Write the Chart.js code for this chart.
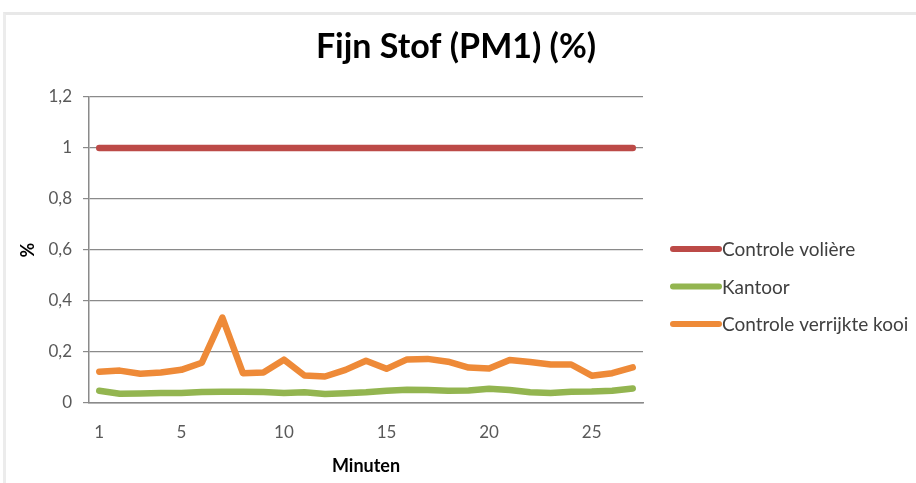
<!DOCTYPE html>
<html>
<head>
<meta charset="utf-8">
<script src="https://cdn.jsdelivr.net/npm/chart.js@4/dist/chart.umd.min.js"></script>
<style>
  html, body { margin:0; padding:0; background:#fff; }
  #wrap { position:relative; width:916px; height:483px; overflow:hidden; }
  #frame { position:absolute; left:3px; top:12px; width:940px; height:500px;
           border-top:3px solid #e8e8e8; border-left:3px solid #ececec; }
  canvas { position:absolute; left:0; top:0; }
</style>
</head>
<body>
<div id="wrap">
  <div id="frame"></div>
  <canvas id="c" width="916" height="483"></canvas>
</div>
<script>
// ================= DATA ==================
const MINUTEN = ["1","2","3","4","5","6","7","8","9","10","11","12","13","14","15","16","17","18","19","20","21","22","23","24","25","26","27"];
const SHOWN_LABELS = ["1","5","10","15","20","25"];

const CONTROLE_VOLIERE = [1,1,1,1,1,1,1,1,1,1,1,1,1,1,1,1,1,1,1,1,1,1,1,1,1,1,1];
const KANTOOR = [0.048,0.036,0.037,0.039,0.039,0.043,0.044,0.044,0.043,0.039,0.042,0.035,0.038,0.042,0.048,0.052,0.051,0.048,0.049,0.056,0.051,0.042,0.039,0.044,0.045,0.048,0.057];
const CONTROLE_VERRIJKT = [0.123,0.127,0.115,0.120,0.130,0.158,0.335,0.117,0.120,0.170,0.108,0.104,0.130,0.166,0.134,0.171,0.173,0.162,0.139,0.135,0.169,0.161,0.151,0.151,0.107,0.117,0.140];

const SERIES_NAMES = ["Controle volière","Kantoor","Controle verrijkte kooi"];
const Y_TICKS = ["0","0,2","0,4","0,6","0,8","1","1,2"];
const TITLE = "Fijn Stof (PM1) (%)";

const COLORS = ["#BC4A47","#93B550","#EE8A38"];
const FONT = "Lato, 'Open Sans', sans-serif";

// ============== TITLE + LEGEND (custom) ==============
const titleAndLegend = {
  id: "titleAndLegend",
  afterDraw(chart){
    const ctx = chart.ctx;
    ctx.save();
    // titel, gecentreerd over het hele kader
    ctx.fillStyle = "#000";
    ctx.font = "bold 34px " + FONT;
    ctx.textAlign = "center";
    ctx.textBaseline = "middle";
    ctx.fillText(TITLE, 456, 47);

    // legenda rechts
    const x0 = 673, x1 = 719, yStart = 249, step = 37.5;
    chart.data.datasets.forEach((ds, i) => {
      const y = yStart + i*step;
      ctx.strokeStyle = ds.borderColor;
      ctx.lineWidth = 6;
      ctx.lineCap = "round";
      ctx.beginPath(); ctx.moveTo(x0, y); ctx.lineTo(x1, y); ctx.stroke();
      ctx.fillStyle = "#404040";
      ctx.font = "19px " + FONT;
      ctx.textAlign = "left";
      ctx.textBaseline = "middle";
      ctx.fillText(ds.label, x1 + 3, y + 1);
    });
    ctx.restore();
  }
};

function makeDs(label, data, color){
  return { label, data, borderColor: color, backgroundColor: color,
           borderWidth: 6.5, pointRadius: 0, tension: 0,
           borderCapStyle: "round", borderJoinStyle: "round" };
}

new Chart(document.getElementById("c"), {
  type: "line",
  data: {
    labels: MINUTEN,
    datasets: [
      makeDs(SERIES_NAMES[0], CONTROLE_VOLIERE, COLORS[0]),
      makeDs(SERIES_NAMES[1], KANTOOR, COLORS[1]),
      makeDs(SERIES_NAMES[2], CONTROLE_VERRIJKT, COLORS[2])
    ]
  },
  options: {
    responsive: false, animation: false,
    layout: { padding: { left: 8, top: 97, right: 273, bottom: 6 } },
    plugins: {
      legend: { display: false },
      tooltip: { enabled: false },
      title: { display: false }
    },
    scales: {
      x: {
        offset: true,
        grid: { display: false, drawTicks: false },
        border: { display: true, color: "#8a8a8a", width: 1.5 },
        ticks: {
          autoSkip: false, maxRotation: 0, padding: 19,
          color: "#595959", font: { family: FONT, size: 17 },
          callback(value){ const l = this.getLabelForValue(value); return SHOWN_LABELS.includes(l) ? l : ""; }
        },
        title: { display: true, text: "Minuten", color: "#000",
                 font: { family: FONT, size: 18, weight: "bold" }, padding: { top: 3, bottom: 0 } },
        afterFit(scale){ scale.height = 74; }
      },
      y: {
        min: 0, max: 1.2,
        grid: { color: "#8a8a8a", lineWidth: 1.2, tickLength: 6, drawTicks: true },
        border: { display: true, color: "#8a8a8a", width: 1.5 },
        ticks: {
          stepSize: 0.2, padding: 11, color: "#595959", font: { family: FONT, size: 17 },
          callback(value, index){ return Y_TICKS[index]; }
        },
        title: { display: true, text: "%", color: "#000",
                 font: { family: FONT, size: 18, weight: "bold" }, padding: { top: 9, bottom: 0 } },
        afterFit(scale){ scale.width = 81; }
      }
    }
  },
  plugins: [titleAndLegend]
});
</script>
</body>
</html>
